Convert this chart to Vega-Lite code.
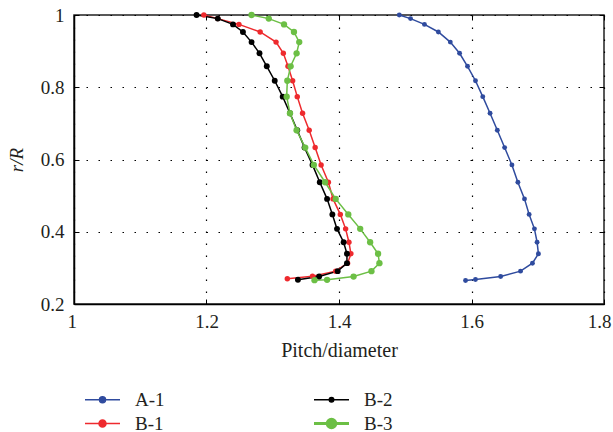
{
  "$schema": "https://vega.github.io/schema/vega-lite/v6.json",
  "width": 530,
  "height": 289,
  "autosize": {"type": "none"},
  "padding": {"left": 74, "top": 15, "right": 9, "bottom": 128},
  "background": "white",
  "config": {
    "font": "Liberation Serif",
    "view": {"stroke": "#222222", "strokeWidth": 1.5}
  },
  "data": {"values": [
    {"s":"A-1","i":0,"x":1.491,"y":1.000},{"s":"A-1","i":1,"x":1.508,"y":0.990},{"s":"A-1","i":2,"x":1.529,"y":0.974},{"s":"A-1","i":3,"x":1.550,"y":0.953},{"s":"A-1","i":4,"x":1.568,"y":0.925},{"s":"A-1","i":5,"x":1.582,"y":0.894},{"s":"A-1","i":6,"x":1.594,"y":0.858},{"s":"A-1","i":7,"x":1.606,"y":0.818},{"s":"A-1","i":8,"x":1.617,"y":0.774},{"s":"A-1","i":9,"x":1.628,"y":0.728},{"s":"A-1","i":10,"x":1.639,"y":0.681},{"s":"A-1","i":11,"x":1.650,"y":0.633},{"s":"A-1","i":12,"x":1.661,"y":0.585},{"s":"A-1","i":13,"x":1.670,"y":0.537},{"s":"A-1","i":14,"x":1.680,"y":0.491},{"s":"A-1","i":15,"x":1.687,"y":0.448},{"s":"A-1","i":16,"x":1.695,"y":0.408},{"s":"A-1","i":17,"x":1.699,"y":0.371},{"s":"A-1","i":18,"x":1.701,"y":0.339},{"s":"A-1","i":19,"x":1.692,"y":0.313},{"s":"A-1","i":20,"x":1.674,"y":0.291},{"s":"A-1","i":21,"x":1.644,"y":0.276},{"s":"A-1","i":22,"x":1.606,"y":0.268},{"s":"A-1","i":23,"x":1.591,"y":0.265},
    {"s":"B-1","i":0,"x":1.196,"y":1.000},{"s":"B-1","i":1,"x":1.217,"y":0.990},{"s":"B-1","i":2,"x":1.249,"y":0.974},{"s":"B-1","i":3,"x":1.281,"y":0.953},{"s":"B-1","i":4,"x":1.305,"y":0.925},{"s":"B-1","i":5,"x":1.316,"y":0.894},{"s":"B-1","i":6,"x":1.323,"y":0.858},{"s":"B-1","i":7,"x":1.330,"y":0.818},{"s":"B-1","i":8,"x":1.337,"y":0.774},{"s":"B-1","i":9,"x":1.345,"y":0.728},{"s":"B-1","i":10,"x":1.355,"y":0.681},{"s":"B-1","i":11,"x":1.364,"y":0.633},{"s":"B-1","i":12,"x":1.373,"y":0.585},{"s":"B-1","i":13,"x":1.384,"y":0.537},{"s":"B-1","i":14,"x":1.391,"y":0.491},{"s":"B-1","i":15,"x":1.402,"y":0.448},{"s":"B-1","i":16,"x":1.410,"y":0.408},{"s":"B-1","i":17,"x":1.415,"y":0.371},{"s":"B-1","i":18,"x":1.418,"y":0.339},{"s":"B-1","i":19,"x":1.413,"y":0.313},{"s":"B-1","i":20,"x":1.395,"y":0.291},{"s":"B-1","i":21,"x":1.360,"y":0.277},{"s":"B-1","i":22,"x":1.322,"y":0.270},
    {"s":"B-2","i":0,"x":1.185,"y":1.000},{"s":"B-2","i":1,"x":1.217,"y":0.990},{"s":"B-2","i":2,"x":1.240,"y":0.974},{"s":"B-2","i":3,"x":1.255,"y":0.953},{"s":"B-2","i":4,"x":1.268,"y":0.925},{"s":"B-2","i":5,"x":1.280,"y":0.894},{"s":"B-2","i":6,"x":1.291,"y":0.858},{"s":"B-2","i":7,"x":1.303,"y":0.818},{"s":"B-2","i":8,"x":1.315,"y":0.774},{"s":"B-2","i":9,"x":1.326,"y":0.728},{"s":"B-2","i":10,"x":1.337,"y":0.681},{"s":"B-2","i":11,"x":1.348,"y":0.633},{"s":"B-2","i":12,"x":1.360,"y":0.585},{"s":"B-2","i":13,"x":1.371,"y":0.537},{"s":"B-2","i":14,"x":1.382,"y":0.491},{"s":"B-2","i":15,"x":1.390,"y":0.448},{"s":"B-2","i":16,"x":1.397,"y":0.408},{"s":"B-2","i":17,"x":1.407,"y":0.371},{"s":"B-2","i":18,"x":1.412,"y":0.339},{"s":"B-2","i":19,"x":1.412,"y":0.313},{"s":"B-2","i":20,"x":1.398,"y":0.291},{"s":"B-2","i":21,"x":1.370,"y":0.276},{"s":"B-2","i":22,"x":1.338,"y":0.267},
    {"s":"B-3","i":0,"x":1.268,"y":1.000},{"s":"B-3","i":1,"x":1.294,"y":0.990},{"s":"B-3","i":2,"x":1.317,"y":0.974},{"s":"B-3","i":3,"x":1.332,"y":0.953},{"s":"B-3","i":4,"x":1.340,"y":0.925},{"s":"B-3","i":5,"x":1.336,"y":0.894},{"s":"B-3","i":6,"x":1.327,"y":0.858},{"s":"B-3","i":7,"x":1.322,"y":0.818},{"s":"B-3","i":8,"x":1.321,"y":0.774},{"s":"B-3","i":9,"x":1.326,"y":0.728},{"s":"B-3","i":10,"x":1.336,"y":0.681},{"s":"B-3","i":11,"x":1.349,"y":0.633},{"s":"B-3","i":12,"x":1.362,"y":0.585},{"s":"B-3","i":13,"x":1.379,"y":0.537},{"s":"B-3","i":14,"x":1.395,"y":0.491},{"s":"B-3","i":15,"x":1.414,"y":0.448},{"s":"B-3","i":16,"x":1.432,"y":0.408},{"s":"B-3","i":17,"x":1.447,"y":0.371},{"s":"B-3","i":18,"x":1.459,"y":0.339},{"s":"B-3","i":19,"x":1.461,"y":0.313},{"s":"B-3","i":20,"x":1.449,"y":0.291},{"s":"B-3","i":21,"x":1.422,"y":0.276},{"s":"B-3","i":22,"x":1.382,"y":0.267},{"s":"B-3","i":23,"x":1.363,"y":0.266}
  ]},
  "encoding": {
    "color": {
      "field": "s", "type": "nominal",
      "scale": {"domain": ["A-1","B-2","B-1","B-3"], "range": ["#2f4b9e","#000000","#ee2a2e","#6cbf45"]},
      "legend": {
        "orient": "none", "legendX": 19, "legendY": 375,
        "direction": "horizontal", "columns": 2, "title": null,
        "labelFont": "Liberation Serif", "labelFontSize": 19, "labelColor": "#231f20",
        "labelOffset": 23, "columnPadding": 143, "rowPadding": 3, "padding": 0,
        "symbolSize": 100, "symbolType": "M-3.5,0H3.5",
        "encode": {"symbols": {"update": {
          "shape": {"signal": "datum.value==='B-3' ? 'M-3.5,0H3.5M-0.85,0A0.85,0.85,0,1,0,0.85,0A0.85,0.85,0,1,0,-0.85,0Z' : datum.value==='B-1' ? 'M-3.5,0H3.5M-0.7,0A0.7,0.7,0,1,0,0.7,0A0.7,0.7,0,1,0,-0.7,0Z' : datum.value==='B-2' ? 'M-3.5,0H3.5M-0.45,0A0.45,0.45,0,1,0,0.45,0A0.45,0.45,0,1,0,-0.45,0Z' : 'M-3.5,0H3.5M-0.6,0A0.6,0.6,0,1,0,0.6,0A0.6,0.6,0,1,0,-0.6,0Z'"},
          "strokeWidth": {"signal": "datum.value==='B-3' ? 3 : 1.5"},
          "fill": {"signal": "datum.value==='A-1' ? '#2f4b9e' : datum.value==='B-1' ? '#ee2a2e' : datum.value==='B-2' ? '#000000' : '#6cbf45'"},
          "stroke": {"signal": "datum.value==='A-1' ? '#2f4b9e' : datum.value==='B-1' ? '#ee2a2e' : datum.value==='B-2' ? '#000000' : '#6cbf45'"},
          "opacity": {"value": 1}
        }}}
      }
    }
  },
  "layer": [
    {
      "mark": {"type": "line"},
      "encoding": {
        "x": {"field": "x", "type": "quantitative", "scale": {"domain": [1, 1.8], "nice": false, "zero": false},
          "axis": {"orient": "bottom", "values": [1, 1.2, 1.4, 1.6, 1.8],
            "labelExpr": "datum.value == 1 ? '1' : format(datum.value, '.1f')",
            "title": "Pitch/diameter", "titleFont": "Liberation Serif", "titleFontSize": 20, "titleFontWeight": "normal", "titleColor": "#231f20", "titlePadding": 9,
            "labelFont": "Liberation Serif", "labelFontSize": 19, "labelColor": "#231f20", "labelPadding": 13,
            "labelFlush": true, "labelFlushOffset": 7,
            "tickSize": -5, "tickColor": "#000000", "tickWidth": 1,
            "domainColor": "#000000", "domainWidth": 1.5,
            "grid": true, "gridColor": "#000000", "gridDash": [1.5, 10.5], "gridWidth": 1.2}},
        "y": {"field": "y", "type": "quantitative", "scale": {"domain": [0.2, 1], "nice": false, "zero": false},
          "axis": {"orient": "left", "values": [0.2, 0.4, 0.6, 0.8, 1],
            "labelExpr": "datum.value == 1 ? '1' : format(datum.value, '.1f')",
            "title": "r/R", "titleFont": "Liberation Serif", "titleFontSize": 19, "titleFontStyle": "italic", "titleFontWeight": "normal", "titleColor": "#231f20", "titlePadding": 14,
            "labelFont": "Liberation Serif", "labelFontSize": 19, "labelColor": "#231f20", "labelPadding": 15, "labelFlush": false,
            "tickSize": -5, "tickColor": "#000000", "tickWidth": 1,
            "domainColor": "#000000", "domainWidth": 1.5,
            "grid": true, "gridColor": "#000000", "gridDash": [1.5, 10.5], "gridWidth": 1.2}},
        "order": {"field": "i", "type": "quantitative"},
        "strokeWidth": {"field": "s", "type": "nominal", "scale": {"domain": ["A-1","B-1","B-2","B-3"], "range": [1.5, 1.5, 1.2, 2.2]}, "legend": null}
      }
    },
    {
      "mark": {"type": "point", "filled": true, "opacity": 1},
      "encoding": {
        "x": {"field": "x", "type": "quantitative",
          "axis": {"orient": "top", "values": [1, 1.2, 1.4, 1.6, 1.8], "labels": false, "title": null, "tickSize": -5, "tickColor": "#000000", "domain": false, "grid": false}},
        "y": {"field": "y", "type": "quantitative",
          "axis": {"orient": "right", "values": [0.2, 0.4, 0.6, 0.8, 1], "labels": false, "title": null, "tickSize": -5, "tickColor": "#000000", "domain": false, "grid": false}},
        "size": {"field": "s", "type": "nominal", "scale": {"domain": ["A-1","B-1","B-2","B-3"], "range": [24, 40, 12, 50]}, "legend": null}
      }
    }
  ],
  "resolve": {"axis": {"x": "independent", "y": "independent"}}
}
